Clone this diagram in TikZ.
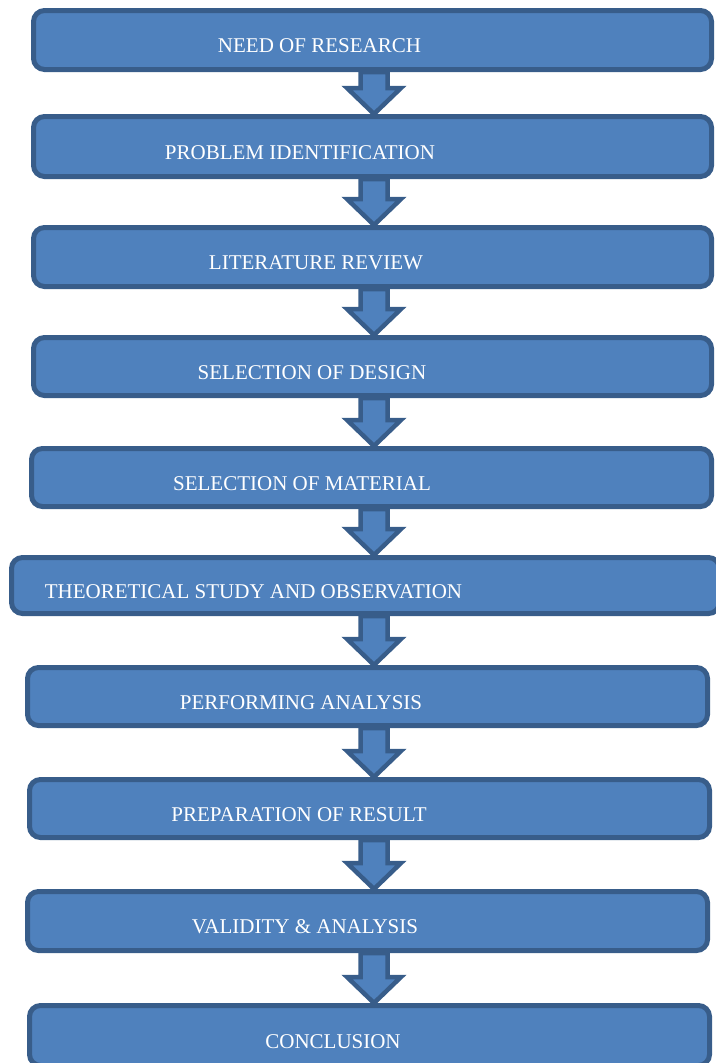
\documentclass[tikz,border=0pt]{standalone}
\usepackage{fontspec}
\setmainfont{Liberation Serif}
\definecolor{BoxBlue}{RGB}{79,129,189}
\definecolor{BoxLine}{RGB}{56,93,138}
\usetikzlibrary{calc}

\begin{document}
\begin{tikzpicture}[
        x=1pt, y=-1pt,
        stage/.style={rectangle, rounded corners=11pt, draw=BoxLine, fill=BoxBlue, line width=5pt, inner sep=0pt, minimum height=59pt},
        stage_text/.style={anchor=base, text=white, inner sep=0pt, font=\fontsize{21}{25}\selectfont},
        flow/.style={draw=BoxLine, fill=BoxBlue, line width=4.5pt, line join=miter}
    ]
        \useasboundingbox (0,0) rectangle (715,1063);
        \coordinate (col) at (374,0);

        % Stages
        \node[stage, minimum width=678pt, minimum height=59pt] (b1) at (372.5,40) {};
        \node[stage, minimum width=678pt, minimum height=60pt] (b2) at (372.5,146.5) {};
        \node[stage, minimum width=678pt, minimum height=59pt] (b3) at (372.5,257) {};
        \node[stage, minimum width=678pt, minimum height=58pt] (b4) at (372.5,366.5) {};
        \node[stage, minimum width=680pt, minimum height=58pt] (b5) at (371.5,477.5) {};
        \node[stage, minimum width=708pt, minimum height=56pt] (b6) at (365.5,585.5) {};
        \node[stage, minimum width=680pt, minimum height=58pt] (b7) at (367.5,696.5) {};
        \node[stage, minimum width=680pt, minimum height=58pt] (b8) at (369.5,808.5) {};
        \node[stage, minimum width=680pt, minimum height=59pt] (b9) at (367.5,921) {};
        \node[stage, minimum width=680pt, minimum height=60pt] (b10) at (369.5,1035.5) {};

        % Labels
        \node[stage_text] (t1) at (319.5,52.5) {NEED OF RESEARCH};
        \node[stage_text] (t2) at (300,159) {PROBLEM IDENTIFICATION};
        \node[stage_text] (t3) at (316,269.5) {LITERATURE REVIEW};
        \node[stage_text] (t4) at (312,379) {SELECTION OF DESIGN};
        \node[stage_text] (t5) at (302,490) {SELECTION OF MATERIAL};
        \node[stage_text] (t6) at (253.5,598) {THEORETICAL STUDY AND OBSERVATION};
        \node[stage_text] (t7) at (301,709) {PERFORMING ANALYSIS};
        \node[stage_text] (t8) at (299,821) {PREPARATION OF RESULT};
        \node[stage_text] (t9) at (305,933.5) {VALIDITY \& ANALYSIS};
        \node[stage_text] (t10) at (333,1048) {CONCLUSION};

        % Arrows
        \foreach \a/\b in {1/2,2/3,3/4,4/5,5/6,6/7,7/8,8/9,9/10}
            \draw[flow] ($(b\a.south -| col)+(-13.5,0)$) -- ($(b\b.north -| col)+(-13.5,-26)$)
                -- ($(b\b.north -| col)+(-27,-26)$) -- (b\b.north -| col)
                -- ($(b\b.north -| col)+(27,-26)$) -- ($(b\b.north -| col)+(13.5,-26)$)
                -- ($(b\a.south -| col)+(13.5,0)$) -- cycle;
    \end{tikzpicture}
\end{document}
